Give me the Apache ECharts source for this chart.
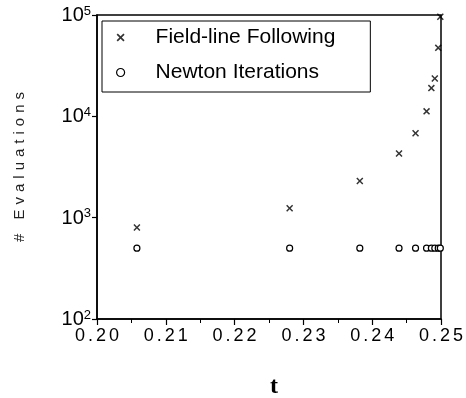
<!DOCTYPE html>
<html><head><meta charset="utf-8">
<script src="https://cdn.jsdelivr.net/npm/echarts@6/dist/echarts.min.js"></script>
<style>html,body{margin:0;padding:0;background:#fff}#c{width:466px;height:398px}</style>
</head><body><div id="c"></div>
<script>
var tValues = [0.2058, 0.2280, 0.2382, 0.2439, 0.2463, 0.2479, 0.2486, 0.2491, 0.2496, 0.2499];
var fieldLine = [800, 1240, 2300, 4300, 6800, 11200, 19000, 23600, 47400, 96000];
var newton = [500, 500, 500, 500, 500, 500, 500, 500, 500, 500];
var xTicks = ['0.20', '0.21', '0.22', '0.23', '0.24', '0.25'];
var seriesNames = ['Field-line Following', 'Newton Iterations'];
var xName = 't';
var yName = '# Evaluations';

var crossPath = 'path://M0,1.5L1.5,0L5,3.5L8.5,0L10,1.5L6.5,5L10,8.5L8.5,10L5,6.5L1.5,10L0,8.5L3.5,5Z';
var font = 'Liberation Sans, Arial, Helvetica, sans-serif';

function pair(a, b) { return a.map(function (v, i) { return [v, b[i]]; }); }
function spaced(s) { return s.split('').map(function (ch) { return '{c|' + ch + '}'; }).join(''); }

var chart = echarts.init(document.getElementById('c'), null, {renderer: 'canvas'});
chart.setOption({
  animation: false,
  backgroundColor: '#fff',
  grid: {left: 97, right: 25, top: 15, bottom: 79, outerBoundsMode: 'none', containLabel: false,
         show: true, borderColor: '#000', borderWidth: 1.5, backgroundColor: 'transparent'},
  legend: {
    left: 102, top: 21, orient: 'vertical',
    borderColor: '#000', borderWidth: 1, padding: [6, 35, 9, 14],
    itemWidth: 8, itemHeight: 8, itemGap: 14,
    textStyle: {fontFamily: font, fontSize: 21, color: '#000', padding: [0, 0, 0, 26]},
    data: [{name: seriesNames[0], icon: crossPath}, {name: seriesNames[1], icon: 'circle', itemStyle: {color: '#fff', borderColor: '#000', borderWidth: 1.2}}]
  },
  xAxis: {
    type: 'value', min: 0.20, max: 0.25, interval: 0.01,
    name: xName, nameLocation: 'middle', nameGap: 56,
    nameTextStyle: {fontFamily: 'Liberation Serif, serif', fontSize: 24, fontWeight: 'bold', color: '#000', padding: [0, 0, 0, 10]},
    axisLine: {lineStyle: {color: '#000', width: 1.5}},
    axisTick: {inside: false, length: 6, lineStyle: {color: '#000', width: 1.2}},
    minorTick: {show: true, splitNumber: 2, length: 4, lineStyle: {color: '#000', width: 1}},
    splitLine: {show: false},
    axisLabel: {margin: 8,
      formatter: function (v) { return spaced(xTicks[Math.round((v - 0.20) / 0.01)]); },
      rich: {c: {fontFamily: font, fontSize: 18, color: '#000', padding: [0, 1.5, 0, 1.5]}}}
  },
  yAxis: {
    type: 'log', logBase: 10, min: 100, max: 100000,
    name: spaced(yName), nameLocation: 'middle', nameGap: 70, nameRotate: 90,
    nameTextStyle: {rich: {c: {fontFamily: font, fontSize: 15, color: '#222', padding: [0, 2.5, 0, 2.5]}}},
    axisLine: {lineStyle: {color: '#000', width: 1.5}},
    axisTick: {inside: false, length: 5, lineStyle: {color: '#000', width: 1.2}},
    splitLine: {show: false},
    axisLabel: {margin: 6,
      formatter: function (v) { var e = Math.round(Math.log10(v)); return '{b|10}{s|' + e + '}'; },
      rich: {b: {fontFamily: font, fontSize: 20, color: '#000', verticalAlign: 'bottom'},
             s: {fontFamily: font, fontSize: 13, color: '#000', verticalAlign: 'top', padding: [0, 0, 8, 0]}}}
  },
  series: [
    {name: seriesNames[0], type: 'scatter', symbol: crossPath, symbolSize: 7,
     itemStyle: {color: '#000'}, data: pair(tValues, fieldLine), z: 3},
    {name: seriesNames[1], type: 'scatter', symbol: 'circle', symbolSize: 6,
     itemStyle: {color: '#fff', borderColor: '#000', borderWidth: 1.2, opacity: 1}, data: pair(tValues, newton), z: 2}
  ]
});
</script></body></html>
